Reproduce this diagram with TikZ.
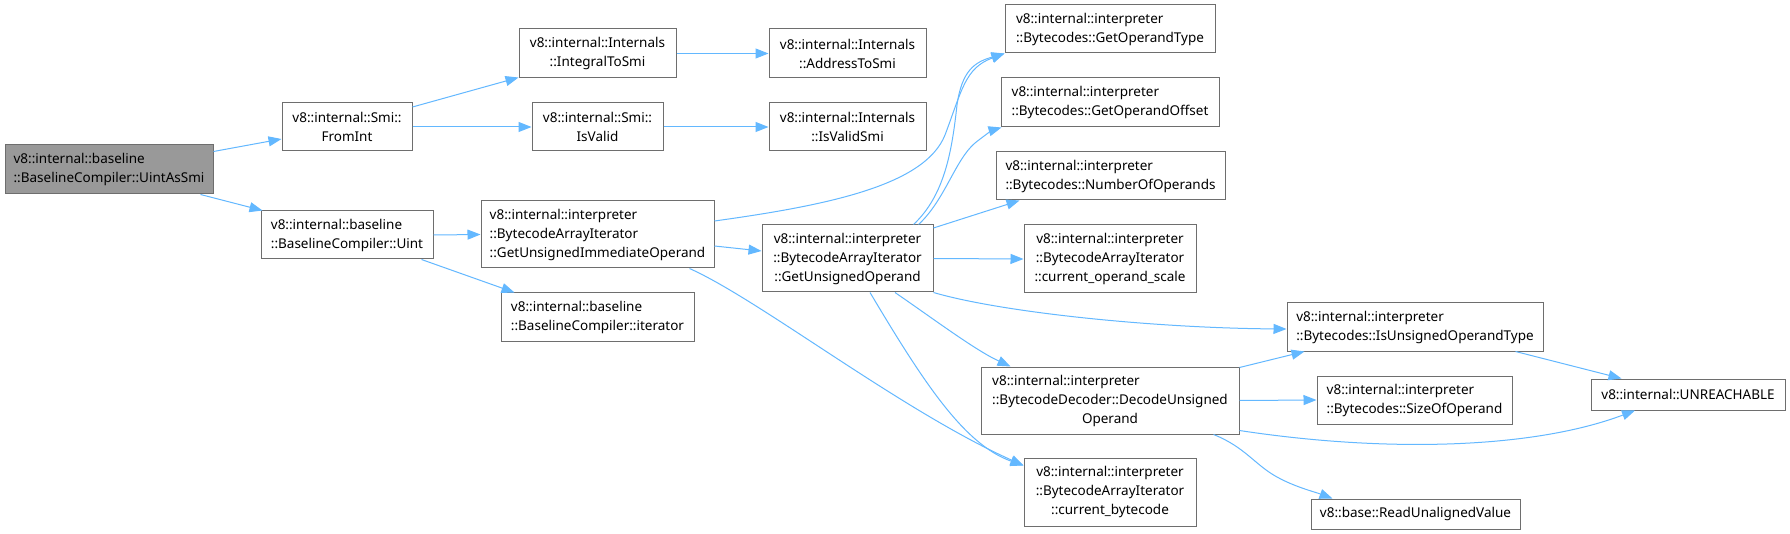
\documentclass[tikz,border=0pt]{standalone}
\usepackage{fontspec}
\setmainfont{Noto Sans}
\usetikzlibrary{arrows.meta}
\definecolor{edgeblue}{HTML}{63B8FF}
\definecolor{nodeborder}{HTML}{6E6E6E}
\definecolor{rootfill}{HTML}{999999}
\begin{document}
\begin{tikzpicture}[x=1pt,y=-1pt,
  box/.style={draw=nodeborder, line width=1pt, fill=white, inner sep=0pt,
    font=\fontsize{13.5}{19}\selectfont, text=black},
  L/.style={align=left}, C/.style={align=center},
  call/.style={draw=edgeblue, line width=1pt, -{Triangle[length=13pt,width=10pt]}}]
\useasboundingbox[fill=white] (0,0) rectangle (1790,534);

% nodes
\node[box,L,fill=rootfill,minimum width=208pt,minimum height=49pt] (root) at (109,169.5) {v8::internal::baseline\\::BaselineCompiler::UintAsSmi};
\node[box,C,minimum width=130pt,minimum height=48pt] (fromint) at (347,127) {v8::internal::Smi::\\FromInt};
\node[box,L,minimum width=172pt,minimum height=48pt] (uint) at (347,235) {v8::internal::baseline\\::BaselineCompiler::Uint};
\node[box,C,minimum width=157pt,minimum height=49pt] (integral) at (597.5,53.5) {v8::internal::Internals\\::IntegralToSmi};
\node[box,C,minimum width=131pt,minimum height=48pt] (isvalid) at (597.5,127) {v8::internal::Smi::\\IsValid};
\node[box,L,minimum width=233pt,minimum height=67pt] (guimm) at (597.5,234.5) {v8::internal::interpreter\\::BytecodeArrayIterator\\::GetUnsignedImmediateOperand};
\node[box,L,minimum width=193pt,minimum height=49pt] (iter) at (597.5,317.5) {v8::internal::baseline\\::BaselineCompiler::iterator};
\node[box,C,minimum width=157pt,minimum height=49pt] (addr) at (847.5,53.5) {v8::internal::Internals\\::AddressToSmi};
\node[box,C,minimum width=157pt,minimum height=48pt] (isvalidsmi) at (847.5,127) {v8::internal::Internals\\::IsValidSmi};
\node[box,C,minimum width=171pt,minimum height=67pt] (guo) at (847.5,258.5) {v8::internal::interpreter\\::BytecodeArrayIterator\\::GetUnsignedOperand};
\node[box,L,minimum width=210pt,minimum height=48pt] (got) at (1110,29) {v8::internal::interpreter\\::Bytecodes::GetOperandType};
\node[box,L,minimum width=218pt,minimum height=49pt] (goo) at (1110,102.5) {v8::internal::interpreter\\::Bytecodes::GetOperandOffset};
\node[box,L,minimum width=229pt,minimum height=48pt] (noo) at (1110.5,176) {v8::internal::interpreter\\::Bytecodes::NumberOfOperands};
\node[box,C,minimum width=172pt,minimum height=68pt] (cos) at (1110,259) {v8::internal::interpreter\\::BytecodeArrayIterator\\::current\_operand\_scale};
\node[box,minimum width=258pt,minimum height=67pt] (dec) at (1110,400.5) {\begin{tabular}{@{}l@{}}v8::internal::interpreter\\::BytecodeDecoder::DecodeUnsigned\\\multicolumn{1}{@{}c@{}}{Operand}\end{tabular}};
\node[box,C,minimum width=172pt,minimum height=68pt] (cb) at (1110,492) {v8::internal::interpreter\\::BytecodeArrayIterator\\::current\_bytecode};
\node[box,L,minimum width=256pt,minimum height=48pt] (iuot) at (1415,327) {v8::internal::interpreter\\::Bytecodes::IsUnsignedOperandType};
\node[box,L,minimum width=195pt,minimum height=48pt] (soo) at (1414.5,400) {v8::internal::interpreter\\::Bytecodes::SizeOfOperand};
\node[box,C,minimum width=209pt,minimum height=30pt] (rua) at (1415.5,514) {v8::base::ReadUnalignedValue};
\node[box,C,minimum width=194pt,minimum height=31pt] (unr) at (1688,394.5) {v8::internal::UNREACHABLE};

% edges
\draw[call] ([yshift=18pt]root.east) -- ([yshift=-12pt]fromint.west);
\draw[call] ([xshift=-13pt]root.south east) -- ([xshift=2pt]uint.north west);
\draw[call] ([yshift=20pt]fromint.east) -- ([yshift=1pt]integral.south west);
\draw[call] (fromint.east) -- (isvalid.west);
\draw[call] (integral.east) -- (addr.west);
\draw[call] (isvalid.east) -- (isvalidsmi.west);
\draw[call] (uint.east) -- (guimm.west);
\draw[call] ([xshift=-12pt]uint.south east) -- ([xshift=14pt]iter.north west);
\draw[call] ([yshift=-11.5pt]guimm.east) -- ([yshift=7.5pt]guo.west);
\draw[call] ([yshift=13.5pt]guimm.east) .. controls (830,205) and (925,185) .. (945,135)
   .. controls (962,90) and (965,68) .. (got.south west);
\draw[call] ([xshift=-25pt]guimm.south east)
   .. controls (760,300) and (900,410) .. ([yshift=-8pt]cb.north west);
\draw[call] ([xshift=-20pt]guo.north east) .. controls (945,195) and (952,150) .. (957,105)
   .. controls (962,70) and (975,62) .. (got.south west);
\draw[call] ([xshift=-15pt]guo.north east) .. controls (945,200) and (955,160) .. (975,143)
   .. controls (985,135) and (993,130) .. ([xshift=1pt]goo.south west);
\draw[call] ([yshift=30.5pt]guo.east) -- ([xshift=24pt]noo.south west);
\draw[call] (guo.east) -- (cos.west);
\draw[call] (guo.south east) .. controls (1000,312) and (1150,328) .. ([yshift=-2pt]iuot.west);
\draw[call] ([xshift=47.5pt]guo.south) .. controls (935,320) and (975,350) .. ([xshift=30pt]dec.north west);
\draw[call] ([xshift=22.5pt]guo.south) .. controls (925,385) and (965,445) .. ([yshift=-8pt]cb.north west);
\draw[call] ([yshift=-1pt]dec.north east) -- ([xshift=18pt]iuot.south west);
\draw[call] (dec.east) -- (soo.west);
\draw[call] ([yshift=4pt]dec.south east) .. controls (1380,452) and (1530,450) .. ([xshift=-53pt]unr.south);
\draw[call] ([xshift=-26pt]dec.south east) .. controls (1245,447) and (1255,465) .. (1277,477)
   .. controls (1295,487) and (1315,492) .. ([xshift=22pt]rua.north west);
\draw[call] ([xshift=-28pt]iuot.south east) -- ([xshift=31pt]unr.north west);
\end{tikzpicture}
\end{document}
